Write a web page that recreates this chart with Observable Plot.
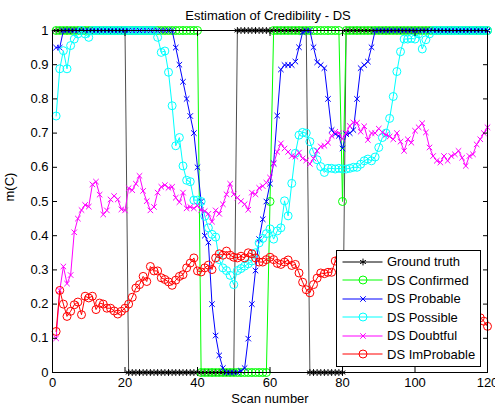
<!DOCTYPE html>
<html><head><meta charset="utf-8">
<script src="https://cdn.jsdelivr.net/npm/d3@7"></script>
<script src="https://cdn.jsdelivr.net/npm/@observablehq/plot@0.6"></script>
<style>
body{margin:0;background:#fff;font-family:"Liberation Sans",Arial,Helvetica,sans-serif;}
#wrap{position:relative;width:495px;height:406px;overflow:hidden;}
#legend{position:absolute;left:336px;top:250px;width:145px;height:117px;box-sizing:border-box;border:1px solid #000;background:#fff;}
.row{position:absolute;left:0;height:18px;display:flex;align-items:center;white-space:nowrap;}
.row span{font-size:13px;color:#000;}
.row svg{display:block;}
</style></head><body>
<div id="wrap"><div id="chart"></div><div id="legend"></div></div>
<script>
const title = "Estimation of Credibility - DS";
const xLabel = "Scan number";
const yLabel = "m(C)";
const xTicks = [0, 20, 40, 60, 80, 100, 120];
const xTickLabels = ["0", "20", "40", "60", "80", "100", "120"];
const yTicks = [0, 0.1, 0.2, 0.3, 0.4, 0.5, 0.6, 0.7, 0.8, 0.9, 1];
const yTickLabels = ["0", "0.1", "0.2", "0.3", "0.4", "0.5", "0.6", "0.7", "0.8", "0.9", "1"];

const seriesNames = ["Ground truth", "DS Confirmed", "DS Probable", "DS Possible", "DS Doubtful", "DS ImProbable"];
const seriesColors = ["#000000", "#00ff00", "#0000ff", "#00ffff", "#ff00ff", "#ff0000"];
const seriesMarkers = ["asterisk", "circle", "times", "circle", "times", "circle"];

const scans = d3.range(1, 121);

const groundTruth = [
 1,1,1,1,1,1,1,1,1,1,
 1,1,1,1,1,1,1,1,1,1,
 0,0,0,0,0,0,0,0,0,0,
 0,0,0,0,0,0,0,0,0,0,
 0,0,0,0,0,0,0,0,0,0,
 1,1,1,1,1,1,1,1,1,1,
 1,1,1,1,1,1,1,1,1,1,
 0,0,0,0,0,0,0,0,0,0,
 1,1,1,1,1,1,1,1,1,1,
 1,1,1,1,1,1,1,1,1,1,
 1,1,1,1,1,1,1,1,1,1,
 1,1,1,1,1,1,1,1,1,1];

const confirmed = [
 1,1,1,1,1,1,1,1,1,1,
 1,1,1,1,1,1,1,1,1,1,
 1,1,1,1,1,1,1,1,1,1,
 1,1,1,1,1,1,1,1,1,1,
 0,0,0,0,0,0,0,0,0,0,
 0,0,0,0,0,0,0,0,0,0.5,
 1,1,1,1,1,1,1,1,1,1,
 1,1,1,1,1,1,1,1,1,0.5,
 1,1,1,1,1,1,1,1,1,1,
 1,1,1,1,1,1,1,1,1,1,
 1,1,1,1,1,1,1,1,1,1,
 1,1,1,1,1,1,1,1,1,1];

const probable = [
 0.95,0.95,1,1,1,1,1,1,1,1,
 1,1,1,1,1,1,1,1,1,1,
 1,1,1,1,1,1,1,1,1,1,
 1,1,1,0.95,0.90,0.85,0.80,0.75,0.70,0.60,
 0.50,0.40,0.38,0.20,0.108,0.05,0.013,0,0,0,
 0,0.005,0.013,0.099,0.20,0.298,0.39,0.448,0.50,0.552,
 0.612,0.751,0.886,0.899,0.899,0.899,0.909,0.951,0.995,1,
 1,0.951,0.907,0.899,0.89,0.80,0.709,0.697,0.692,0.655,
 0.697,0.70,0.709,0.80,0.89,0.899,0.909,0.951,1,1,
 1,1,1,1,1,1,1,1,1,1,
 1,1,1,1,1,1,1,1,1,1,
 1,1,1,1,1,1,1,1,1,1];

const possible = [
 0.75,0.888,0.941,0.888,0.956,0.975,0.99,1,0.99,0.98,
 1,1,1,1,1,1,1,1,1,1,
 1,1,1,1,1,1,1,1,0.98,0.936,
 0.94,0.878,0.78,0.663,0.687,0.604,0.562,0.558,0.504,0.504,
 0.50,0.457,0.423,0.404,0.396,0.33,0.306,0.298,0.284,0.257,
 0.298,0.304,0.311,0.318,0.326,0.35,0.379,0.392,0.406,0.42,
 0.39,0.414,0.423,0.502,0.458,0.553,0.641,0.694,0.702,0.70,
 0.675,0.645,0.622,0.602,0.585,0.597,0.597,0.595,0.597,0.595,
 0.595,0.597,0.60,0.60,0.609,0.619,0.624,0.619,0.63,0.658,
 0.687,0.70,0.743,0.807,0.88,0.938,0.975,0.975,0.977,0.975,
 0.99,0.946,0.973,0.99,1,1,1,1,1,1,
 1,1,1,1,1,1,1,1,1,1];

const doubtful = [
 0.10,0.24,0.31,0.26,0.285,0.41,0.45,0.475,0.49,0.485,
 0.55,0.558,0.52,0.462,0.474,0.506,0.516,0.506,0.477,0.474,
 0.539,0.533,0.552,0.575,0.531,0.501,0.474,0.484,0.526,0.543,
 0.548,0.54,0.543,0.511,0.498,0.526,0.48,0.484,0.48,0.488,
 0.475,0.472,0.464,0.441,0.474,0.464,0.492,0.521,0.552,0.521,
 0.511,0.501,0.492,0.476,0.526,0.521,0.54,0.545,0.555,0.57,
 0.61,0.645,0.67,0.655,0.645,0.633,0.631,0.643,0.626,0.62,
 0.61,0.626,0.648,0.661,0.663,0.672,0.692,0.704,0.70,0.683,
 0.70,0.721,0.731,0.73,0.704,0.72,0.68,0.70,0.70,0.713,
 0.702,0.695,0.69,0.682,0.70,0.675,0.648,0.682,0.672,0.707,
 0.717,0.729,0.702,0.658,0.633,0.619,0.614,0.633,0.619,0.633,
 0.638,0.648,0.628,0.604,0.633,0.638,0.667,0.682,0.70,0.717];

const improbable = [
 0.12,0.24,0.20,0.164,0.179,0.198,0.206,0.169,0.223,0.218,
 0.223,0.184,0.203,0.20,0.188,0.188,0.18,0.171,0.179,0.188,
 0.20,0.22,0.247,0.257,0.281,0.266,0.31,0.297,0.297,0.277,
 0.272,0.265,0.255,0.27,0.281,0.286,0.306,0.32,0.335,0.297,
 0.294,0.306,0.314,0.301,0.335,0.347,0.343,0.355,0.343,0.337,
 0.335,0.34,0.335,0.35,0.347,0.335,0.323,0.323,0.33,0.337,
 0.33,0.319,0.316,0.323,0.329,0.313,0.316,0.291,0.264,0.242,
 0.233,0.257,0.276,0.291,0.289,0.293,0.293,0.326,0.33,0.32,
 0.31,0.30,0.29,0.30,0.28,0.27,0.28,0.26,0.25,0.26,
 0.24,0.23,0.24,0.25,0.23,0.22,0.21,0.22,0.20,0.21,
 0.22,0.20,0.19,0.20,0.21,0.19,0.18,0.19,0.20,0.18,
 0.17,0.18,0.19,0.17,0.16,0.17,0.165,0.16,0.15,0.135];

const seriesValues = [groundTruth, confirmed, probable, possible, doubtful, improbable];
const markerRadius = {asterisk: 3.2, circle: 4, times: 2.6};

const dataMarks = [];
seriesValues.forEach((vals, k) => {
  const data = scans.map((s, i) => ({scan: s, value: vals[i]}));
  dataMarks.push(Plot.line(data, {x: "scan", y: "value", stroke: seriesColors[k], strokeWidth: k === 0 ? 0.7 : 1}));
  dataMarks.push(Plot.dot(data, {x: "scan", y: "value", symbol: seriesMarkers[k], r: markerRadius[seriesMarkers[k]], stroke: seriesColors[k], fill: "none", strokeWidth: 1}));
});

const chart = Plot.plot({
  width: 495,
  height: 406,
  marginLeft: 52,
  marginRight: 8,
  marginTop: 30,
  marginBottom: 34,
  style: {fontFamily: "'Liberation Sans', Arial, Helvetica, sans-serif", fontSize: "13px", background: "#fff", color: "#000", overflow: "visible"},
  x: {domain: [0, 120]},
  y: {domain: [0, 1]},
  marks: [
    ...dataMarks,
    Plot.frame({stroke: "#000", strokeWidth: 1}),
    Plot.axisX({anchor: "bottom", ticks: xTicks, tickSize: -5, tickPadding: 10, tickFormat: d => xTickLabels[xTicks.indexOf(d)], label: null}),
    Plot.axisX({anchor: "top", ticks: xTicks, tickSize: -5, tickFormat: () => "", label: null}),
    Plot.axisY({anchor: "left", ticks: yTicks, tickSize: -5, tickPadding: 9, tickFormat: d => yTickLabels[yTicks.indexOf(d)], label: null}),
    Plot.axisY({anchor: "right", ticks: yTicks, tickSize: -5, tickFormat: () => "", label: null}),
    Plot.text([title], {text: d => d, frameAnchor: "top", dx: -2, dy: -11, lineAnchor: "bottom", fontSize: 13}),
    Plot.text([xLabel], {text: d => d, frameAnchor: "bottom", dy: 30, lineAnchor: "bottom", fontSize: 13}),
    Plot.text([yLabel], {text: d => d, frameAnchor: "left", dx: -39, rotate: -90, lineAnchor: "bottom", fontSize: 13})
  ]
});
document.getElementById("chart").append(chart);

const legend = document.getElementById("legend");
seriesNames.forEach((name, k) => {
  const row = document.createElement("div");
  row.className = "row";
  row.style.top = (10.7 + k * 18.5 - 9) + "px";
  const svg = d3.create("svg").attr("width", 50).attr("height", 18);
  svg.append("line").attr("x1", 5.5).attr("x2", 45.5).attr("y1", 9).attr("y2", 9)
    .attr("stroke", seriesColors[k]).attr("stroke-width", 1);
  const m = seriesMarkers[k];
  if (m === "circle") {
    svg.append("circle").attr("cx", 26).attr("cy", 9).attr("r", 4)
      .attr("fill", "none").attr("stroke", seriesColors[k]);
  } else {
    const r = markerRadius[m];
    const type = m === "times" ? d3.symbolTimes : d3.symbolAsterisk;
    svg.append("path").attr("transform", "translate(26,9)")
      .attr("d", d3.symbol().type(type).size(Math.PI * r * r)())
      .attr("fill", "none").attr("stroke", seriesColors[k]);
  }
  row.append(svg.node());
  const span = document.createElement("span");
  span.textContent = name;
  row.append(span);
  legend.append(row);
});
</script>
</body></html>
